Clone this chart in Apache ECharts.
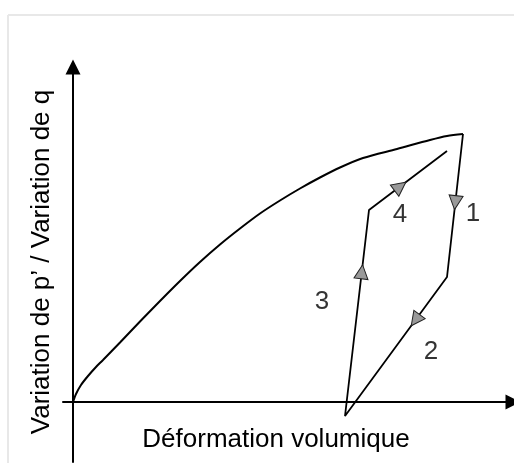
<!DOCTYPE html>
<html>
<head>
<meta charset="utf-8">
<script src="https://cdn.jsdelivr.net/npm/echarts@6/dist/echarts.min.js"></script>
<style>
  html, body { margin: 0; padding: 0; background: #fff; }
  #chart { width: 514px; height: 463px; }
</style>
</head>
<body>
<div id="chart"></div>
<script>
// courbe de chargement (unités arbitraires, origine = 0)
const curveX = [0, 0.6, 1.6, 3, 4.6, 6, 9.4, 13.4, 17.4, 21.4, 25.4, 29.4, 33.4, 37.4, 41.4, 45.4, 49.4, 53.4, 58, 64.8, 71.4, 74.8, 78];
const curveY = [0, 1.6, 3.4, 5.2, 7, 8.4, 11.9, 16.1, 20.2, 24.2, 28, 31.5, 34.7, 37.7, 40.3, 42.7, 44.9, 46.9, 48.8, 50.6, 52.4, 53.2, 53.6];

// cycle décharge / recharge
const loopX = [78, 74.8, 54.4, 59.2, 74.8];
const loopY = [53.6, 25, -2.8, 38.4, 50.2];
// position des flèches le long de chaque segment (fraction)
const arrowAt = [0.48, 0.31, 0.70, 0.40];

// numéros des phases
const phaseNames = ['1', '2', '3', '4'];
const phaseX = [80, 71.6, 49.8, 65.4];
const phaseY = [37.6, 10, 20, 37.4];

const xTitle = 'Déformation volumique';
const yTitle = 'Variation de p’ / Variation de q';

const font = '"Liberation Sans", Arial, sans-serif';

const arrows = arrowAt.map((t, i) => {
  const dx = loopX[i + 1] - loopX[i];
  const dy = loopY[i + 1] - loopY[i];
  const ang = Math.atan2(dy, dx) * 180 / Math.PI;
  return {
    value: [loopX[i] + dx * t, loopY[i] + dy * t],
    symbolRotate: ang - 90
  };
});

const chart = echarts.init(document.getElementById('chart'));
chart.setOption({
  animation: false,
  grid: { left: 63, right: 1, top: 67, bottom: 1 },
  xAxis: {
    type: 'value',
    min: -2,
    max: 88,
    axisLine: {
      onZero: true,
      symbol: ['none', 'triangle'],
      symbolSize: [15, 15],
      lineStyle: { color: '#000', width: 2 }
    },
    axisTick: { show: false },
    axisLabel: { show: false },
    splitLine: { show: false }
  },
  yAxis: {
    type: 'value',
    min: -12,
    max: 67,
    axisLine: {
      onZero: true,
      symbol: ['none', 'triangle'],
      symbolSize: [15, 15],
      lineStyle: { color: '#000', width: 2 }
    },
    axisTick: { show: false },
    axisLabel: { show: false },
    splitLine: { show: false }
  },
  graphic: [
    { type: 'line', shape: { x1: 8, y1: 15, x2: 514, y2: 15 }, style: { stroke: '#e8e8e8', lineWidth: 2 } },
    { type: 'line', shape: { x1: 8, y1: 15, x2: 8, y2: 463 }, style: { stroke: '#e8e8e8', lineWidth: 2 } },
    {
      type: 'text', x: 276, y: 440,
      style: { text: xTitle, font: '26px ' + font, fill: '#000', textAlign: 'center', textVerticalAlign: 'middle' }
    },
    {
      type: 'text', x: 42, y: 262, rotation: Math.PI / 2,
      style: { text: yTitle, font: '26px ' + font, fill: '#000', textAlign: 'center', textVerticalAlign: 'middle' }
    }
  ],
  series: [
    {
      type: 'line',
      data: curveX.map((x, i) => [x, curveY[i]]),
      smooth: 0.3,
      showSymbol: false,
      lineStyle: { color: '#000', width: 2 }
    },
    {
      type: 'line',
      data: loopX.map((x, i) => [x, loopY[i]]),
      showSymbol: false,
      lineStyle: { color: '#000', width: 1.8 }
    },
    {
      type: 'scatter',
      data: arrows,
      symbol: 'triangle',
      symbolSize: [14, 14],
      itemStyle: { color: '#999', borderColor: '#222', borderWidth: 1, opacity: 1 },
      z: 5
    },
    {
      type: 'scatter',
      data: phaseNames.map((n, i) => ({ name: n, value: [phaseX[i], phaseY[i]] })),
      symbolSize: 0,
      label: {
        show: true,
        position: 'inside',
        formatter: p => p.name,
        fontFamily: font,
        fontSize: 26,
        color: '#000'
      }
    }
  ]
});
</script>
</body>
</html>
